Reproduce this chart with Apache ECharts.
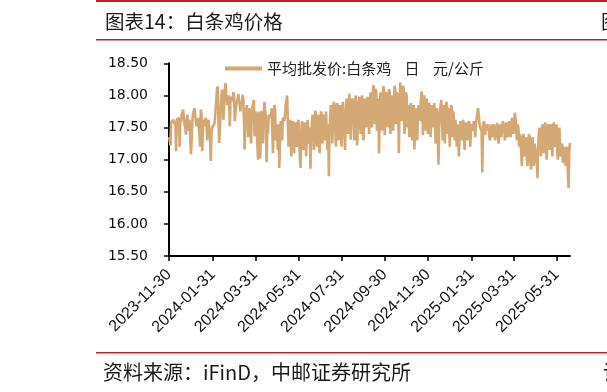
<!DOCTYPE html>
<html><head><meta charset="utf-8">
<script src="https://cdn.jsdelivr.net/npm/echarts@6/dist/echarts.min.js"></script>
<style>html,body{margin:0;padding:0;background:#fff}#c{width:607px;height:392px}</style>
</head><body><div id="c"></div>
<script>
// Daily observations starting at startDate; x axis runs to axisEnd
const startDate = '2023-11-30';
const axisEnd = '2025-06-19';
// 平均批发价:白条鸡 (元/公斤), one value per calendar day
const prices = [
  17.35,17.30,17.22,17.58,17.60,17.60,17.62,17.62,17.55,17.60,
  17.13,17.62,17.62,17.60,17.65,17.20,17.62,17.58,17.70,17.72,
  17.78,17.65,17.55,17.50,17.39,17.60,17.70,17.73,17.45,17.62,
  17.65,17.08,17.30,17.60,17.72,17.76,17.80,17.83,17.60,17.52,
  17.60,17.65,17.67,17.40,17.20,17.78,17.70,17.13,17.50,17.62,
  17.52,17.60,17.65,17.55,17.30,17.57,17.62,17.60,17.35,16.98,
  17.40,17.50,17.50,17.47,17.55,17.62,17.80,17.95,18.10,18.14,
  17.60,17.26,17.50,17.75,17.95,18.09,17.90,17.62,18.00,18.10,
  18.19,18.00,17.85,17.95,17.93,18.00,17.52,17.95,17.90,17.98,
  17.90,18.05,18.00,17.60,17.57,17.85,17.83,17.95,18.02,18.00,
  17.85,17.75,17.90,17.85,18.01,17.95,17.60,17.16,17.70,17.75,
  17.85,17.85,17.35,17.80,17.80,17.75,17.25,17.70,17.82,17.80,
  17.93,17.36,17.75,17.75,17.70,17.20,17.00,17.75,17.60,17.02,
  17.55,17.76,17.70,17.25,17.70,17.90,17.75,17.65,16.96,17.45,
  17.40,17.70,17.70,17.73,17.65,17.80,17.80,17.10,17.55,17.85,
  17.80,17.30,17.55,17.55,17.15,17.55,16.87,17.35,17.60,17.60,
  17.30,17.65,17.65,17.60,17.70,17.85,17.85,18.00,17.60,17.20,
  17.45,17.62,17.60,17.05,17.55,17.60,17.55,17.10,17.50,17.58,
  17.55,17.20,17.55,17.62,17.60,17.05,16.87,17.40,17.60,17.60,
  17.15,17.50,17.58,17.55,17.05,17.45,17.62,17.60,17.25,17.50,
  16.86,17.40,17.55,17.70,17.70,17.15,17.60,17.76,17.70,17.20,
  17.55,17.70,17.70,17.10,17.62,17.75,17.70,17.25,17.65,17.70,
  17.70,17.30,17.75,17.75,17.15,17.55,16.74,17.45,17.70,17.85,
  17.80,17.25,17.70,17.90,17.85,17.85,17.20,17.75,17.88,17.85,
  17.30,17.70,17.85,17.85,17.20,17.55,17.90,17.93,17.90,17.15,
  17.70,17.95,17.95,17.40,17.85,18.03,18.00,17.31,17.60,17.95,
  17.95,17.90,17.30,17.80,18.00,18.00,17.22,17.50,17.90,17.98,
  17.95,17.40,17.85,18.00,18.00,17.30,17.70,17.95,17.95,17.50,
  17.90,17.98,17.98,17.40,17.85,18.05,18.00,17.50,17.95,18.16,
  18.10,17.55,18.10,18.05,17.45,17.80,17.95,17.10,17.70,18.05,
  18.00,17.45,17.95,18.14,18.10,17.38,17.90,18.05,18.00,17.50,
  17.95,18.10,18.05,17.40,17.85,18.00,18.00,17.45,17.90,18.15,
  18.10,17.55,18.05,18.00,17.95,17.10,17.85,18.20,18.20,17.60,
  17.90,18.15,18.10,17.40,17.85,18.05,18.00,17.50,17.85,17.85,
  17.35,17.80,17.88,17.85,17.30,17.70,17.85,17.16,17.60,17.80,
  17.80,17.30,17.75,17.85,17.85,17.60,17.90,18.06,18.00,17.38,
  17.85,18.00,18.00,17.45,17.95,17.90,17.40,17.70,17.88,17.85,
  17.35,17.75,17.85,17.85,17.50,17.88,17.85,17.25,17.70,17.80,
  17.80,16.92,17.50,17.75,17.75,17.93,17.90,17.30,17.85,17.80,
  17.25,17.70,17.90,17.85,17.40,17.80,17.80,17.20,17.65,17.85,
  17.80,17.35,17.75,17.60,17.30,17.62,17.60,17.20,17.55,17.55,
  17.05,17.45,17.60,17.60,17.30,17.55,17.62,17.60,17.15,17.50,
  17.58,17.55,17.30,17.55,17.60,17.55,17.20,17.50,17.55,17.50,
  17.45,17.60,17.55,17.35,17.55,17.65,17.72,17.80,17.70,17.55,
  17.50,17.50,17.45,16.80,17.50,17.60,17.55,17.38,17.55,17.50,
  17.45,17.55,17.50,17.35,17.30,17.45,17.55,17.55,17.35,17.55,
  17.50,17.30,17.40,17.50,17.57,17.55,17.25,17.40,17.55,17.50,
  17.35,17.50,17.60,17.55,17.50,17.30,17.45,17.58,17.55,17.35,
  17.45,17.60,17.55,17.35,17.55,17.65,17.60,17.40,17.55,17.73,
  17.65,17.45,17.30,17.55,17.50,17.20,17.40,17.35,17.10,16.90,
  17.25,17.40,17.35,17.05,17.20,17.35,17.00,16.90,17.25,17.40,
  17.35,16.95,16.85,17.20,17.35,17.10,16.90,17.25,17.15,16.95,
  17.05,16.71,17.20,17.40,17.50,17.45,17.05,17.45,17.55,17.50,
  17.10,17.50,17.58,17.55,17.00,17.35,17.55,17.50,17.15,17.50,
  17.55,17.50,17.05,17.45,17.58,17.55,17.20,17.40,17.55,17.10,
  17.00,17.35,17.50,17.25,17.05,17.20,17.25,16.95,17.10,17.20,
  17.05,16.90,17.15,17.20,16.80,16.56,17.15,17.26
];
const tickLabels = ['2023-11-30','2024-01-31','2024-03-31','2024-05-31','2024-07-31',
  '2024-09-30','2024-11-30','2025-01-31','2025-03-31','2025-05-31'];
const yMin = 15.5, yMax = 18.5, yStep = 0.5;

function toDate(s){ const p = s.split('-').map(Number); return new Date(Date.UTC(p[0], p[1]-1, p[2])); }
function fmt(d){ const m = d.getUTCMonth()+1, dd = d.getUTCDate();
  return d.getUTCFullYear() + '-' + (m<10?'0':'') + m + '-' + (dd<10?'0':'') + dd; }
// daily calendar categories for the x axis
const days = [];
for (let t = toDate(startDate).getTime(); t <= toDate(axisEnd).getTime(); t += 86400000) days.push(fmt(new Date(t)));
const tickSet = new Set(tickLabels);
const showTick = (idx, val) => tickSet.has(val);

const chart = echarts.init(document.getElementById('c'), null, {renderer:'canvas'});
const red = '#C41E24';
const seriesName = '平均批发价:白条鸡    日    元/公斤';
chart.setOption({
  animation: false,
  backgroundColor: '#fff',
  graphic: [
    {type:'rect', shape:{x:96, y:0, width:511, height:2}, style:{fill:red}},
    {type:'rect', shape:{x:96, y:39, width:511, height:1.5}, style:{fill:red}},
    {type:'rect', shape:{x:96, y:352, width:511, height:1.5}, style:{fill:red}},
    {type:'text', left:105, top:12, style:{text:'图表14：白条鸡价格', font:'19.5px "Noto Sans CJK SC"', fill:'#1a1a1a'}},
    {type:'text', left:601, top:12, style:{text:'图', font:'19.5px "Noto Sans CJK SC"', fill:'#1a1a1a'}},
    {type:'text', left:103, top:362, style:{text:'资料来源：iFinD，中邮证券研究所', font:'20px "Noto Sans CJK SC"', fill:'#1a1a1a'}},
    {type:'text', left:603, top:362, style:{text:'请', font:'20px "Noto Sans CJK SC"', fill:'#1a1a1a'}}
  ],
  legend: {
    left: 220, top: 56, icon: 'rect', itemWidth: 37, itemHeight: 4, itemGap: 10,
    textStyle: {fontFamily:'"Noto Sans CJK SC"', fontSize: 15, color:'#222'},
    data: [seriesName]
  },
  grid: {left: 169, right: 37, top: 63.3, bottom: 136, containLabel: false},
  xAxis: {
    type: 'category', data: days, boundaryGap: false,
    axisLine: {lineStyle:{color:'#000', width:2}},
    axisTick: {show:true, interval: showTick, length:5, lineStyle:{color:'#000', width:1.5}},
    axisLabel: {interval: showTick, rotate: 45, margin: 16,
      fontFamily:'"Liberation Sans", Arial', fontSize: 16, color:'#111'},
    splitLine: {show:false}
  },
  yAxis: {
    type: 'value', min: yMin, max: yMax, interval: yStep,
    axisLine: {show:true, lineStyle:{color:'#000', width:2}},
    axisTick: {show:true, length:5, lineStyle:{color:'#000', width:1.5}},
    axisLabel: {formatter: v => v.toFixed(2), margin: 21, fontFamily:'"DejaVu Sans"', fontSize: 14, color:'#111'},
    splitLine: {show:false}
  },
  series: [{
    name: seriesName, type: 'line', data: prices,
    showSymbol: false, symbol: 'none',
    lineStyle: {color:'#D4A874', width: 2.6},
    itemStyle: {color:'#D4A874'}
  }]
});
</script></body></html>
